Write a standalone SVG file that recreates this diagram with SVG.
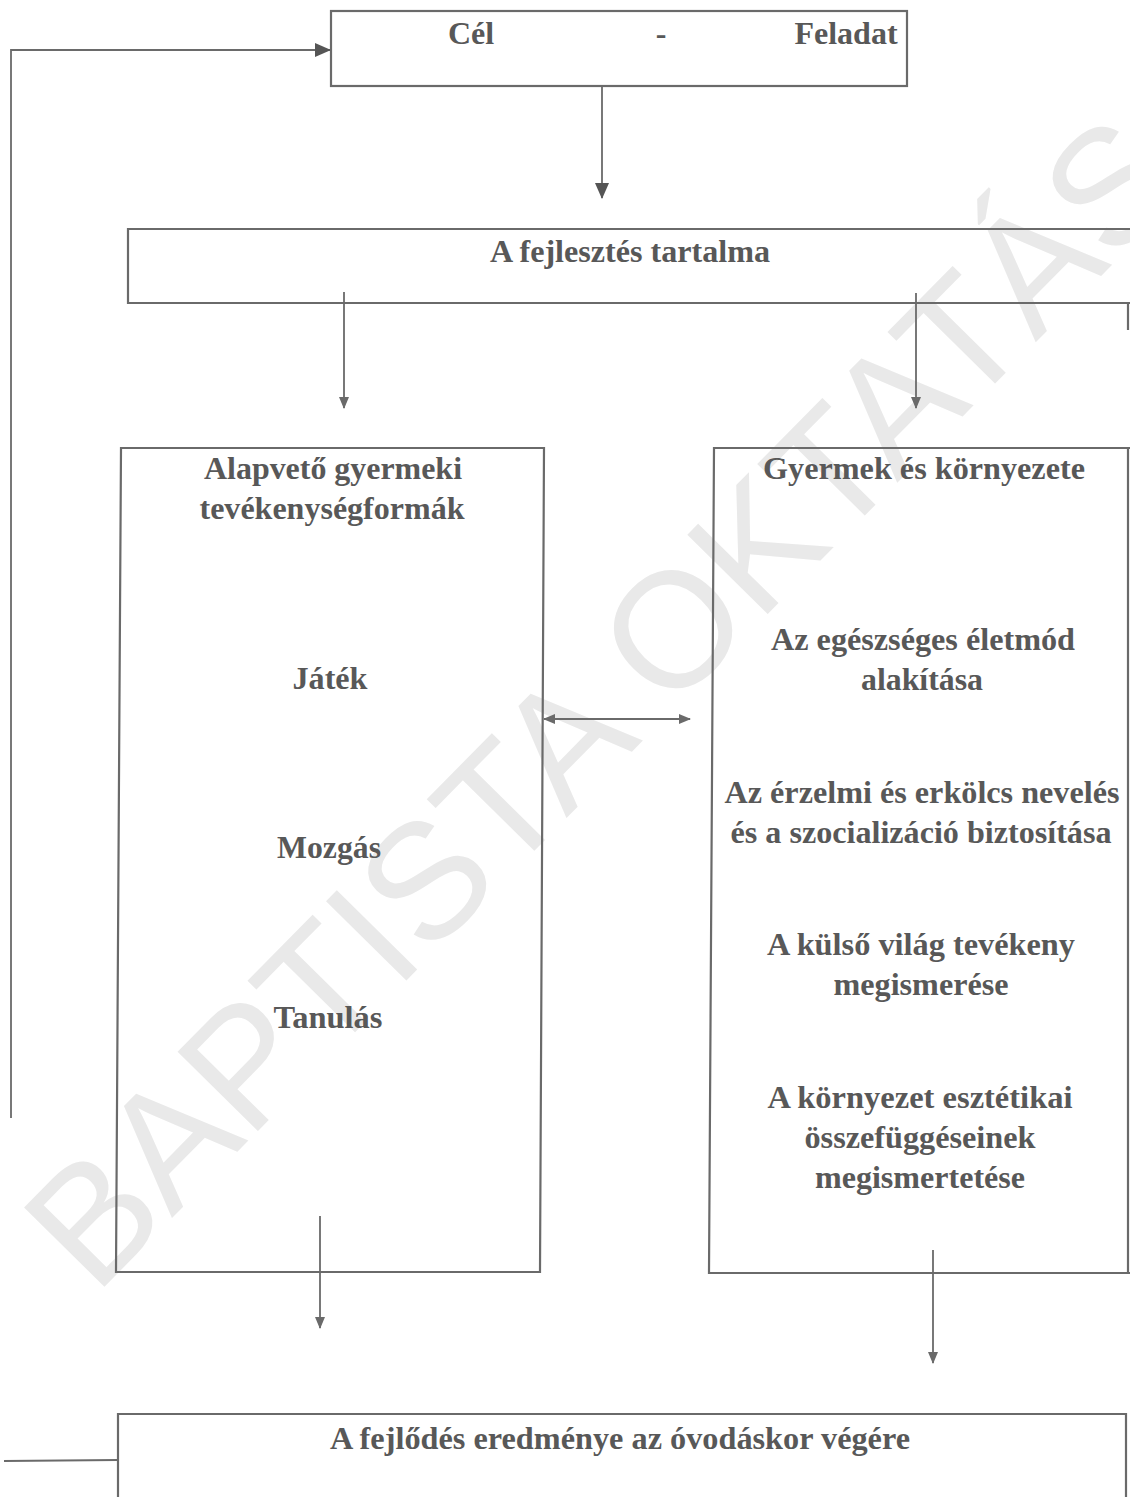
<svg xmlns="http://www.w3.org/2000/svg" width="1130" height="1497" viewBox="0 0 1130 1497">
<defs>
<style>
.t{font-family:"Liberation Serif","Times New Roman",serif;font-weight:bold;font-size:31px;fill:#585858;text-anchor:middle}
.b{fill:none;stroke:#6a6a6a;stroke-width:2.2}
.c{fill:none;stroke:#6a6a6a;stroke-width:1.8}
.wm{font-family:"Liberation Sans",Arial,sans-serif;font-size:164px;fill:#e9e9e9;text-anchor:middle}
</style>
<marker id="ah" viewBox="0 0 12 12" refX="11" refY="6" markerWidth="12" markerHeight="12" markerUnits="userSpaceOnUse" orient="auto-start-reverse">
<path d="M0,1 L12,6 L0,11 Z" fill="#6a6a6a"/>
</marker>
<marker id="ahb" viewBox="0 0 16 14" refX="15" refY="7" markerWidth="16" markerHeight="14" markerUnits="userSpaceOnUse" orient="auto-start-reverse">
<path d="M0,0 L16,7 L0,14 Z" fill="#555"/>
</marker>
</defs>
<rect width="1130" height="1497" fill="#ffffff"/>
<g id="watermark" transform="translate(600,700) rotate(-45.4)">
<text class="wm" x="0" y="59">BAPTISTA OKTATÁS</text>
</g>
<g id="connectors">
<polyline class="c" points="11,1118 11,50 330,50" marker-end="url(#ahb)"/>
<line class="c" x1="602" y1="86" x2="602" y2="198" marker-end="url(#ahb)"/>
<line class="c" x1="344" y1="292" x2="344" y2="408" marker-end="url(#ah)"/>
<line class="c" x1="916" y1="293" x2="916" y2="408" marker-end="url(#ah)"/>
<line class="c" x1="544" y1="719" x2="690" y2="719" marker-start="url(#ah)" marker-end="url(#ah)"/>
<line class="c" x1="320" y1="1216" x2="320" y2="1328" marker-end="url(#ah)"/>
<line class="c" x1="933" y1="1250" x2="933" y2="1363" marker-end="url(#ah)"/>
<line class="c" x1="4" y1="1461" x2="118" y2="1460"/>
</g>
<g id="cel-feladat">
<rect class="b" x="331" y="11" width="576" height="75"/>
<text class="t" x="471" y="44" style="font-size:32px">Cél</text>
<text class="t" x="661" y="44" style="font-size:32px">-</text>
<text class="t" x="846" y="44" style="font-size:32px">Feladat</text>
</g>
<g id="fejlesztes-tartalma">
<path class="b" d="M1130,229 L128,229 L128,303 L1130,303"/>
<line class="b" x1="1128" y1="303" x2="1128" y2="330"/>
<text class="t" x="630" y="262" textLength="280" lengthAdjust="spacingAndGlyphs">A fejlesztés tartalma</text>
</g>
<g id="tevekenysegformak">
<path class="b" d="M121,448 L544,448 L540,1272 L116,1272 Z"/>
<text class="t" x="333" y="479" textLength="258" lengthAdjust="spacingAndGlyphs">Alapvető gyermeki</text>
<text class="t" x="332" y="519" textLength="265" lengthAdjust="spacingAndGlyphs">tevékenységformák</text>
<text class="t" x="330" y="689" textLength="75" lengthAdjust="spacingAndGlyphs">Játék</text>
<text class="t" x="329" y="858" textLength="104" lengthAdjust="spacingAndGlyphs">Mozgás</text>
<text class="t" x="328" y="1028" textLength="109" lengthAdjust="spacingAndGlyphs">Tanulás</text>
</g>
<g id="gyermek-kornyezete">
<path class="b" d="M1130,448 L714,448 L709,1273 L1130,1273"/>
<line class="b" x1="1128" y1="448" x2="1128" y2="1273"/>
<text class="t" x="924" y="479" textLength="322" lengthAdjust="spacingAndGlyphs">Gyermek és környezete</text>
<text class="t" x="923" y="650" textLength="304" lengthAdjust="spacingAndGlyphs">Az egészséges életmód</text>
<text class="t" x="922" y="690" textLength="122" lengthAdjust="spacingAndGlyphs">alakítása</text>
<text class="t" x="922" y="803" textLength="395" lengthAdjust="spacingAndGlyphs">Az érzelmi és erkölcs nevelés</text>
<text class="t" x="921" y="843" textLength="381" lengthAdjust="spacingAndGlyphs">és a szocializáció biztosítása</text>
<text class="t" x="921" y="955" textLength="308" lengthAdjust="spacingAndGlyphs">A külső világ tevékeny</text>
<text class="t" x="921" y="995" textLength="175" lengthAdjust="spacingAndGlyphs">megismerése</text>
<text class="t" x="920" y="1108" textLength="305" lengthAdjust="spacingAndGlyphs">A környezet esztétikai</text>
<text class="t" x="920" y="1148" textLength="231" lengthAdjust="spacingAndGlyphs">összefüggéseinek</text>
<text class="t" x="920" y="1188" textLength="210" lengthAdjust="spacingAndGlyphs">megismertetése</text>
</g>
<g id="fejlodes-eredmenye">
<path class="b" d="M118,1497 L118,1414 L1126,1414 L1126,1497"/>
<text class="t" x="620" y="1449" textLength="580" lengthAdjust="spacingAndGlyphs">A fejlődés eredménye az óvodáskor végére</text>
</g>
</svg>
